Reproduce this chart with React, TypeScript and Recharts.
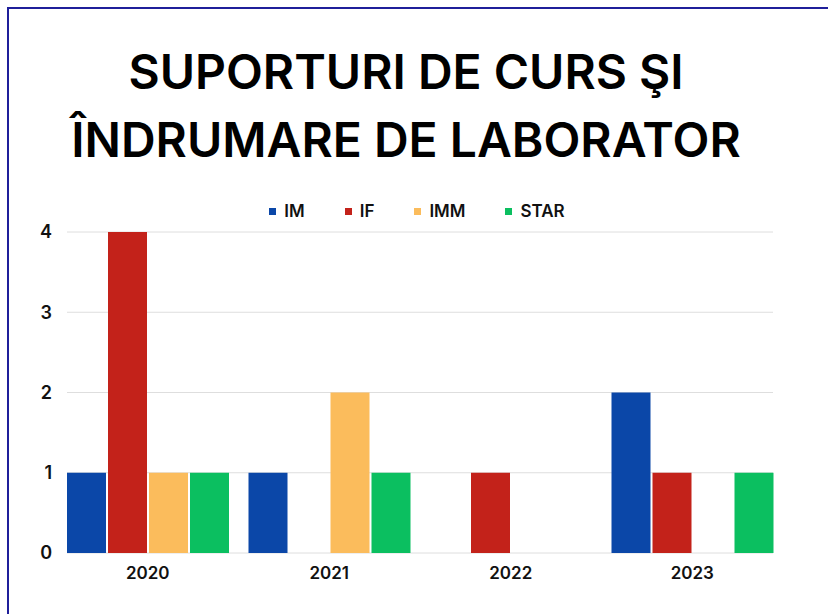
import React from 'react';
import { BarChart, Bar, XAxis, YAxis, CartesianGrid } from 'recharts';

const years = ['2020', '2021', '2022', '2023'];
const imValues = [1, 1, 0, 2];
const ifValues = [4, 0, 1, 1];
const immValues = [1, 2, 0, 0];
const starValues = [1, 1, 0, 1];
const yTicks = [0, 1, 2, 3, 4];

const series = [
    { key: 'IM', color: '#0b47a8' },
    { key: 'IF', color: '#c3221a' },
    { key: 'IMM', color: '#fbbc5c' },
    { key: 'STAR', color: '#0bbf60' },
];

const data = years.map((year, i) => ({
    year,
    IM: imValues[i],
    IF: ifValues[i],
    IMM: immValues[i],
    STAR: starValues[i],
}));

const FONT = 'Inter, "Noto Sans", sans-serif';

// legend drawn as plain html so it doesn't push the plot area down
const ChartLegend = () => (
    <div style={{ position: 'absolute', left: 0, top: 199, width: 834, display: 'flex', justifyContent: 'center', gap: 40, fontFamily: FONT, fontWeight: 600, fontSize: 17, lineHeight: '24px', color: '#111' }}>
        {series.map(s => (
            <div key={s.key} style={{ display: 'flex', alignItems: 'center' }}>
                <span style={{ width: 7, height: 7, background: s.color, display: 'inline-block', marginRight: 8 }} />
                <span>{s.key}</span>
            </div>
        ))}
    </div>
);

const App: React.FC = () => {
    return (
        <div style={{ position: 'fixed', left: 0, top: 0, width: 828, height: 614, background: '#fff', overflow: 'hidden' }}>
            <div style={{ position: 'absolute', left: 7, top: 7, width: 830, height: 620, borderTop: '2px solid #1f1f9a', borderLeft: '2px solid #1f1f9a' }} />
            <div style={{ position: 'absolute', left: 0, top: 38, width: 812, textAlign: 'center', fontFamily: FONT, fontWeight: 600, fontSize: 48, lineHeight: '68px', color: '#000' }}>
                SUPORTURI DE CURS ŞI<br />ÎNDRUMARE DE LABORATOR
            </div>
            <ChartLegend />
            <div style={{ position: 'absolute', left: 0, top: 0 }}>
                <BarChart width={828} height={614} data={data} margin={{ top: 232, right: 55, left: 37, bottom: 31 }} barGap={2} barCategoryGap={10}>
                    <CartesianGrid vertical={false} stroke="#dedede" />
                    <XAxis
                        dataKey="year"
                        axisLine={false}
                        tickLine={false}
                        padding={{ left: -10, right: -10 }}
                        tickMargin={8}
                        height={30}
                        tick={{ fill: '#111', fontSize: 17, fontWeight: 600, fontFamily: FONT }}
                    />
                    <YAxis
                        domain={[0, 4]}
                        ticks={yTicks}
                        axisLine={false}
                        tickLine={false}
                        width={30}
                        tickMargin={9}
                        tick={{ fill: '#111', fontSize: 18, fontWeight: 600, fontFamily: FONT }}
                    />
                    {series.map(s => (
                        <Bar key={s.key} dataKey={s.key} fill={s.color} isAnimationActive={false} />
                    ))}
                </BarChart>
            </div>
        </div>
    );
};

export default App;
